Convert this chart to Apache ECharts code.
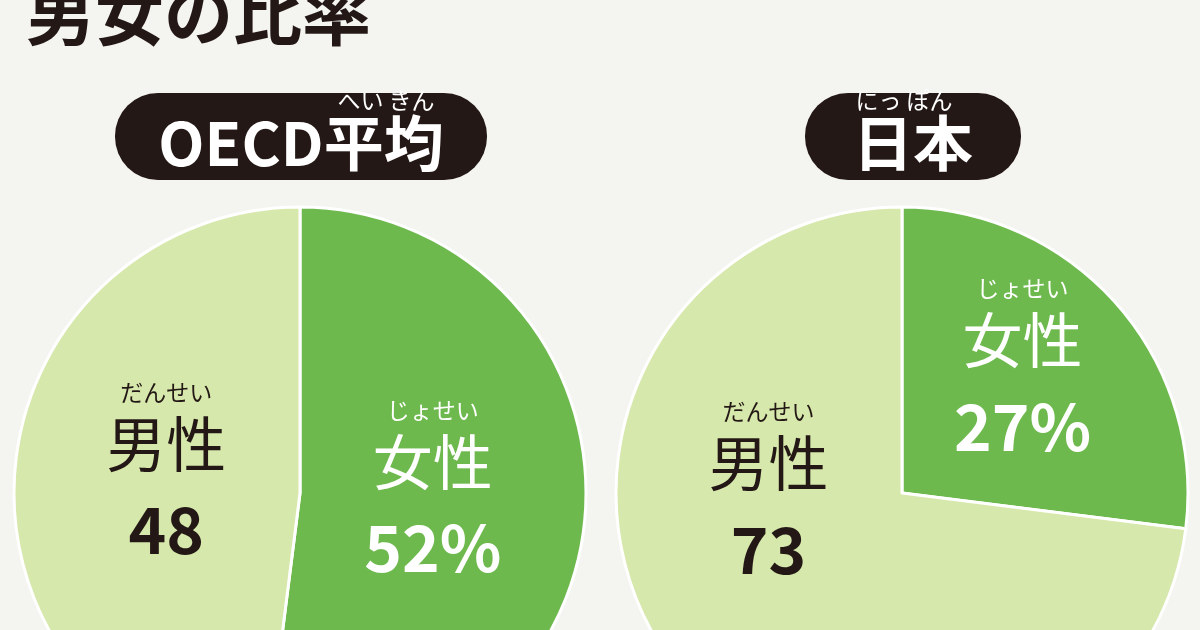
<!DOCTYPE html>
<html>
<head>
<meta charset="utf-8">
<script src="https://cdn.jsdelivr.net/npm/echarts@6/dist/echarts.min.js"></script>
<style>
  html, body { margin: 0; padding: 0; background: #f4f4f1; }
  #root { width: 1200px; height: 630px; }
</style>
</head>
<body>
<div id="root"></div>
<script>
// データ
var titleText = '男女の比率';
var groupNames = ['OECD平均', '日本'];
var groupRuby = ['へい きん', 'にっ ぽん'];
var sexNames = ['女性', '男性'];
var sexRuby = ['じょせい', 'だんせい'];
var oecdShare = [52, 48];
var japanShare = [27, 73];

var FONT = '"Noto Sans CJK JP", "Noto Sans", sans-serif';
var INK = '#231815';
var sliceColors = ['#6eb94d', '#d6e8ab'];
var labelColors = ['#ffffff', INK];

// ラベルの微調整（系列ごと、女性・男性）
var labelShift = [
  [[-13, -6], [12, -6]],
  [[11, -22], [-24, -92]]
];

function pieData(values) {
  return values.map(function(v, i) {
    return {
      name: sexNames[i],
      value: v,
      itemStyle: {color: sliceColors[i]},
      label: {color: labelColors[i]}
    };
  });
}

function pieSeries(idx, values, cx) {
  return {
    type: 'pie',
    center: [cx, 493],
    radius: [0, 286],
    startAngle: 90,
    clockwise: true,
    silent: true,
    animation: false,
    avoidLabelOverlap: false,
    itemStyle: {borderColor: '#ffffff', borderWidth: 3},
    label: {
      show: true,
      position: 'inside',
      fontFamily: FONT,
      formatter: function(p) {
        var v = p.dataIndex === 0 ? p.value + '%' : p.value;
        return '{r|' + sexRuby[p.dataIndex] + '}\n{n|' + p.name + '}\n{v|' + v + '}';
      },
      rich: {
        r: {fontSize: 23, lineHeight: 34, fontFamily: FONT, align: 'center'},
        n: {fontSize: 60, lineHeight: 70, fontFamily: FONT, align: 'center'},
        v: {fontSize: 64, lineHeight: 102, fontWeight: 'bold', fontFamily: FONT, align: 'center'}
      }
    },
    labelLine: {show: false},
    labelLayout: function(p) {
      var s = labelShift[idx][p.dataIndex];
      return {dx: s[0], dy: s[1]};
    },
    data: pieData(values)
  };
}

function badge(cx, w, name, ruby, rubyX) {
  return [
    {
      type: 'rect',
      shape: {x: cx - w / 2, y: 93, width: w, height: 87, r: 43},
      style: {fill: INK}
    },
    {
      type: 'text',
      x: cx, y: 143,
      style: {
        text: name, fill: '#ffffff', font: 'bold 60px ' + FONT,
        textAlign: 'center', textVerticalAlign: 'middle'
      }
    },
    {
      type: 'text',
      x: rubyX, y: 100,
      style: {
        text: ruby, fill: '#ffffff', font: '23px ' + FONT,
        textAlign: 'center', textVerticalAlign: 'middle'
      }
    }
  ];
}

var option = {
  backgroundColor: '#f4f4f1',
  graphic: [
    {
      type: 'text',
      x: 26, y: 14,
      style: {
        text: titleText, fill: INK, font: 'bold 69px ' + FONT,
        textAlign: 'left', textVerticalAlign: 'middle'
      }
    }
  ].concat(
    badge(301, 372, groupNames[0], groupRuby[0], 386),
    badge(913, 216, groupNames[1], groupRuby[1], 904)
  ),
  series: [
    pieSeries(0, oecdShare, 300),
    pieSeries(1, japanShare, 902)
  ]
};

var myChart = echarts.init(document.getElementById('root'));
myChart.setOption(option);
</script>
</body>
</html>
